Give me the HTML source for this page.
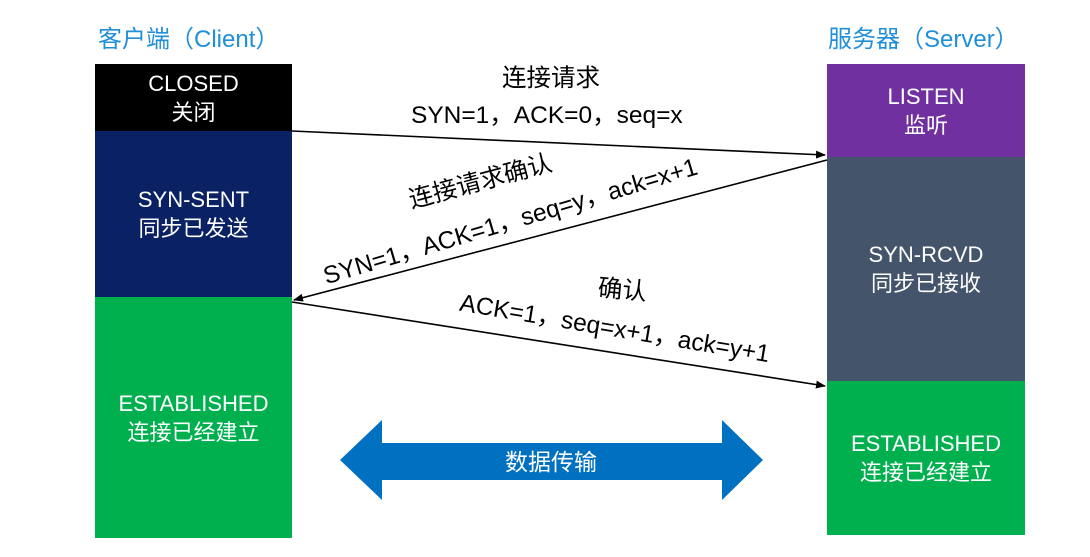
<!DOCTYPE html>
<html><head><meta charset="utf-8"><style>
body{margin:0;width:1090px;height:557px;background:#fff;position:relative;overflow:hidden;font-family:"Liberation Sans","Noto Sans CJK SC",sans-serif;}
.b{position:absolute;color:#fff;font-size:22px;line-height:29px;text-align:center;display:flex;flex-direction:column;justify-content:center;}
.t{position:absolute;font-size:24.5px;color:#000;white-space:nowrap;transform-origin:center;}
.h{position:absolute;color:#1f8fd8;font-size:24px;}
</style></head><body>
<div class="h" style="left:98px;top:19px">客户端（Client）</div>
<div class="h" style="left:828px;top:19px">服务器（Server）</div>
<div class="b" style="left:95px;top:64px;width:197px;height:67px;background:#000">CLOSED<br>关闭</div>
<div class="b" style="left:95px;top:131px;width:197px;height:166px;background:#0a2164">SYN-SENT<br>同步已发送</div>
<div class="b" style="left:95px;top:297px;width:197px;height:241px;background:#00b04f">ESTABLISHED<br>连接已经建立</div>
<div class="b" style="left:827px;top:64px;width:198px;height:93px;background:#7030a0">LISTEN<br>监听</div>
<div class="b" style="left:827px;top:157px;width:198px;height:224px;background:#44546a">SYN-RCVD<br>同步已接收</div>
<div class="b" style="left:827px;top:381px;width:198px;height:154px;background:#00b04f">ESTABLISHED<br>连接已经建立</div>
<svg width="1090" height="557" style="position:absolute;left:0;top:0">
<defs><marker id="a" markerWidth="10" markerHeight="8" refX="9" refY="4" orient="auto" markerUnits="userSpaceOnUse"><path d="M0,0L10,4L0,8z" fill="#000"/></marker></defs>
<line x1="292" y1="131" x2="825" y2="155" stroke="#000" stroke-width="1.6" marker-end="url(#a)"/>
<line x1="827" y1="160" x2="294" y2="300" stroke="#000" stroke-width="1.6" marker-end="url(#a)"/>
<line x1="292" y1="302" x2="825" y2="386" stroke="#000" stroke-width="1.6" marker-end="url(#a)"/>
<polygon points="340,460 382,420 382,443 722,443 722,420 763,460 722,500 722,480 382,480 382,500" fill="#0070c0"/>
<text x="551" y="470" fill="#fff" font-size="23" text-anchor="middle" font-family="Liberation Sans, Noto Sans CJK SC, sans-serif">数据传输</text>
</svg>
<div class="t" style="left:502px;top:59px">连接请求</div>
<div class="t" style="left:411px;top:96px">SYN=1，ACK=0，seq=x</div>
<div class="t" style="left:480px;top:180px;transform:translate(-50%,-50%) rotate(-15deg)">连接请求确认</div>
<div class="t" style="left:510px;top:220px;transform:translate(-50%,-50%) rotate(-16.5deg)">SYN=1，ACK=1，seq=y，ack=x+1</div>
<div class="t" style="left:598px;top:271px;transform:rotate(5deg)">确认</div>
<div class="t" style="left:615px;top:327px;transform:translate(-50%,-50%) rotate(9.5deg)">ACK=1，seq=x+1，ack=y+1</div>
</body></html>
